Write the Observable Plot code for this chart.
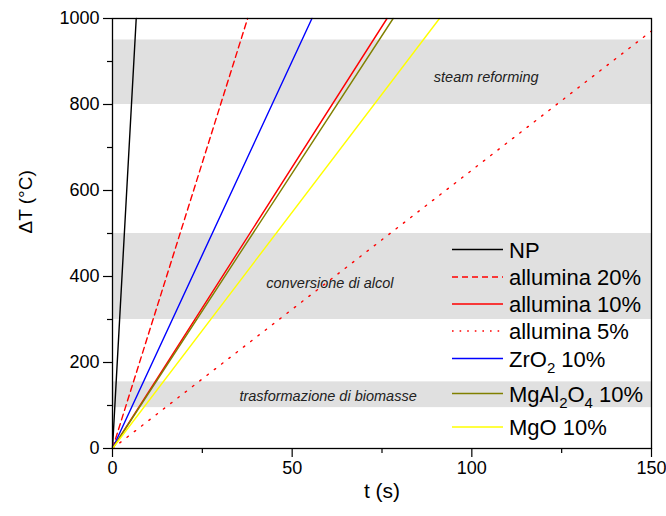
<!DOCTYPE html>
<html>
<head>
<meta charset="utf-8">
<script src="https://cdn.jsdelivr.net/npm/d3@7"></script>
<script src="https://cdn.jsdelivr.net/npm/@observablehq/plot@0.6"></script>
<style>
  html, body { margin: 0; padding: 0; background: #fff; }
  #wrap { position: relative; width: 666px; height: 516px; }
  #legend { position: absolute; left: 0; top: 0; pointer-events: none; }
</style>
</head>
<body>
<div id="wrap"></div>
<script>
// ---- data ----
const seriesNames = ["NP", "allumina 20%", "allumina 10%", "allumina 5%", "ZrO_2 10%", "MgAl_2O_4 10%", "MgO 10%"];
const startT = [0, 0, 0, 0, 0, 0, 0];        // t (s) at start
const startDT = [0, 0, 0, 0, 0, 0, 0];       // ΔT at start
const endT = [6.6, 37.6, 76.4, 150, 55.5, 78.1, 91.0]; // t (s) at end
const endDT = [1000, 1000, 1000, 971, 1000, 1000, 1000]; // ΔT (°C) at end

const bandNames = ["steam reforming", "conversione di alcol", "trasformazione di biomasse"];
const bandLow = [800, 300, 95];
const bandHigh = [950, 500, 155];
const bandLabelT = [104, 60.5, 60];
const bandLabelDT = [862, 384, 122];

const xMajorTicks = [0, 50, 100, 150];
const xMinorTicks = [25, 75, 125];
const yMajorTicks = [0, 200, 400, 600, 800, 1000];
const yMinorTicks = [100, 300, 500, 700, 900];

// ---- styles ----
const colors = ["#000000", "#ff0000", "#ff0000", "#ff0000", "#0000ff", "#808000", "#ffff00"];
const dashes = [null, "6,4", null, "1.6,7.6", null, null, null];

const font = "'Liberation Sans', Arial, sans-serif";

const bands = bandNames.map((name, i) => ({name, lo: bandLow[i], hi: bandHigh[i], lt: bandLabelT[i], ly: bandLabelDT[i]}));

const lineMarks = seriesNames.map((name, i) => Plot.line(
  [{t: startT[i], T: startDT[i]}, {t: endT[i], T: endDT[i]}],
  {x: "t", y: "T", stroke: colors[i], strokeWidth: 1.4, strokeDasharray: dashes[i] || undefined}
));

const fmt = d3.format("d");

const chart = Plot.plot({
  width: 666, height: 516,
  marginLeft: 112, marginRight: 15, marginTop: 18, marginBottom: 68,
  x: {domain: [0, 150]},
  y: {domain: [0, 1000]},
  style: {fontFamily: font, fontSize: "18px", color: "black", background: "white", overflow: "visible"},
  marks: [
    Plot.rect(bands, {y1: "lo", y2: "hi", fill: "#e0e0e0"}),
    Plot.text(bands, {x: "lt", y: "ly", text: "name", fontStyle: "italic", fontSize: 14.5, fill: "#222"}),
    ...lineMarks,
    Plot.frame({stroke: "black", strokeWidth: 1.3}),
    Plot.axisX({ticks: xMajorTicks, tickSize: 9, tickPadding: 4, tickFormat: fmt, label: null, fontSize: 18, strokeWidth: 1.2}),
    Plot.axisX({ticks: xMinorTicks, tickSize: 5, tickFormat: () => "", label: null, strokeWidth: 1.2}),
    Plot.axisY({ticks: yMajorTicks, tickSize: 9, tickPadding: 4, tickFormat: fmt, label: null, fontSize: 18, strokeWidth: 1.2}),
    Plot.axisY({ticks: yMinorTicks, tickSize: 5, tickFormat: () => "", label: null, strokeWidth: 1.2}),
    Plot.text(["ΔT (°C)"], {frameAnchor: "left", dx: -87, rotate: -90, fontSize: 19}),
    Plot.text(["t (s)"], {frameAnchor: "bottom", dy: 49, fontSize: 21})
  ]
});
document.getElementById("wrap").appendChild(chart);

// ---- legend overlay ----
const legendX = 452, legendLineLen = 51, legendTextX = 509;
const legendRowY = [249.5, 277, 304, 331, 358.5, 393.5, 427];
const svg = d3.select("#wrap").append("svg")
  .attr("id", "legend").attr("width", 666).attr("height", 516)
  .style("font-family", font);
seriesNames.forEach((name, i) => {
  const y = legendRowY[i];
  svg.append("line")
    .attr("x1", legendX).attr("x2", legendX + legendLineLen)
    .attr("y1", y).attr("y2", y)
    .attr("stroke", colors[i]).attr("stroke-width", 1.6)
    .attr("stroke-dasharray", i === 3 ? "1.6,6" : (dashes[i] || null));
  const txt = svg.append("text").attr("x", legendTextX).attr("y", y + 8).attr("font-size", 22).attr("fill", "black");
  const parts = name.split(/(_\d)/).filter(s => s.length);
  let shifted = false;
  parts.forEach(p => {
    if (p.startsWith("_")) {
      txt.append("tspan").attr("font-size", 15).attr("dy", 6).text(p.slice(1));
      shifted = true;
    } else {
      const ts = txt.append("tspan").text(p);
      if (shifted) { ts.attr("dy", -6); shifted = false; }
    }
  });
});
</script>
</body>
</html>
